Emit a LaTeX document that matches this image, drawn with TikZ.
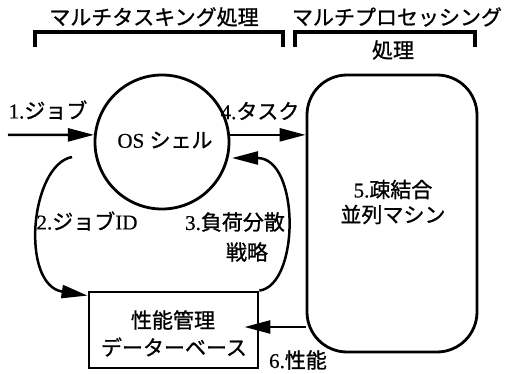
\documentclass[tikz,border=0pt]{standalone}
\usepackage{fontspec}
\setmainfont[FakeBold=0.5]{Liberation Serif}
\newfontfamily\jp[FakeBold=1]{Noto Sans CJK JP}
\usetikzlibrary{arrows.meta}
\begin{document}
\begin{tikzpicture}[x=1pt,y=1pt,
  lw/.style={line width=2.8pt},
  arr/.style={line width=2.5pt, -{Triangle[length=26pt,width=13pt]}},
  brk/.style={line width=3.8pt},
  lbl/.style={inner sep=0pt, font=\fontsize{21}{25}\selectfont},
  ]
\useasboundingbox (0,0) rectangle (507,373);
% main shapes
\node[lw, draw, circle, minimum size=134pt, inner sep=0pt] (shell) at (162,231) {};
\node[lw, draw, rounded corners=40pt, minimum width=170pt, minimum height=277pt, inner sep=0pt] (pm) at (392,159.5) {};
\node[lw, draw, minimum width=169pt, minimum height=76pt, inner sep=0pt] (db) at (173.5,43) {};
% titles and brackets
\node[lbl] (t1) at (154,356) {\jp マルチタスキング処理};
\node[lbl] (t2) at (397,356) {\jp マルチプロセッシング};
\node[lbl] (t3) at (393,323) {\jp 処理};
\draw[brk] (35,326) |- (283,341) -- (283,326);
\draw[brk] (295,326) |- (475,341) -- (475,326);
% node texts
\node[lbl] (shelltext) at (165,233) {OS {\jp シェル}};
\node[lbl, align=center] (pmtext) at (393,171) {5.{\jp 疎結合}\\{\jp 並列マシン}};
\node[lbl] (dbt1) at (173,53) {\jp 性能管理};
\node[lbl] (dbt2) at (174,26) {\jp データーベース};
% labels
\node[lbl] (l1) at (48,263) {1.{\jp ジョブ}};
\node[lbl] (l4) at (260,262) {4.{\jp タスク}};
\node[lbl] (l2) at (87,152) {2.{\jp ジョブ}ID};
\node[lbl] (l3) at (235,151) {3.{\jp 負荷分散}};
\node[lbl] (l3b) at (247,121) {\jp 戦略};
\node[lbl] (l6) at (298,13) {6.{\jp 性能}};
% connectors
\coordinate (in1) at (8,238);
\coordinate (j2) at (72,216);
\coordinate (s3) at (232,215);
\coordinate (p6) at ([yshift=3pt]db.east);
\draw[arr] (in1) -- (shell.174);
\draw[arr] (shell.6) -- (shell.6 -| pm.west);
\draw[arr] (j2) .. controls (30,208) and (20,88) .. ([yshift=-5pt]db.north west);
\draw[arr] (db.north east) .. controls (300,88) and (300,215) .. (s3);
\draw[arr] (p6 -| pm.west) -- ([xshift=-15pt]p6);
\end{tikzpicture}
\end{document}
